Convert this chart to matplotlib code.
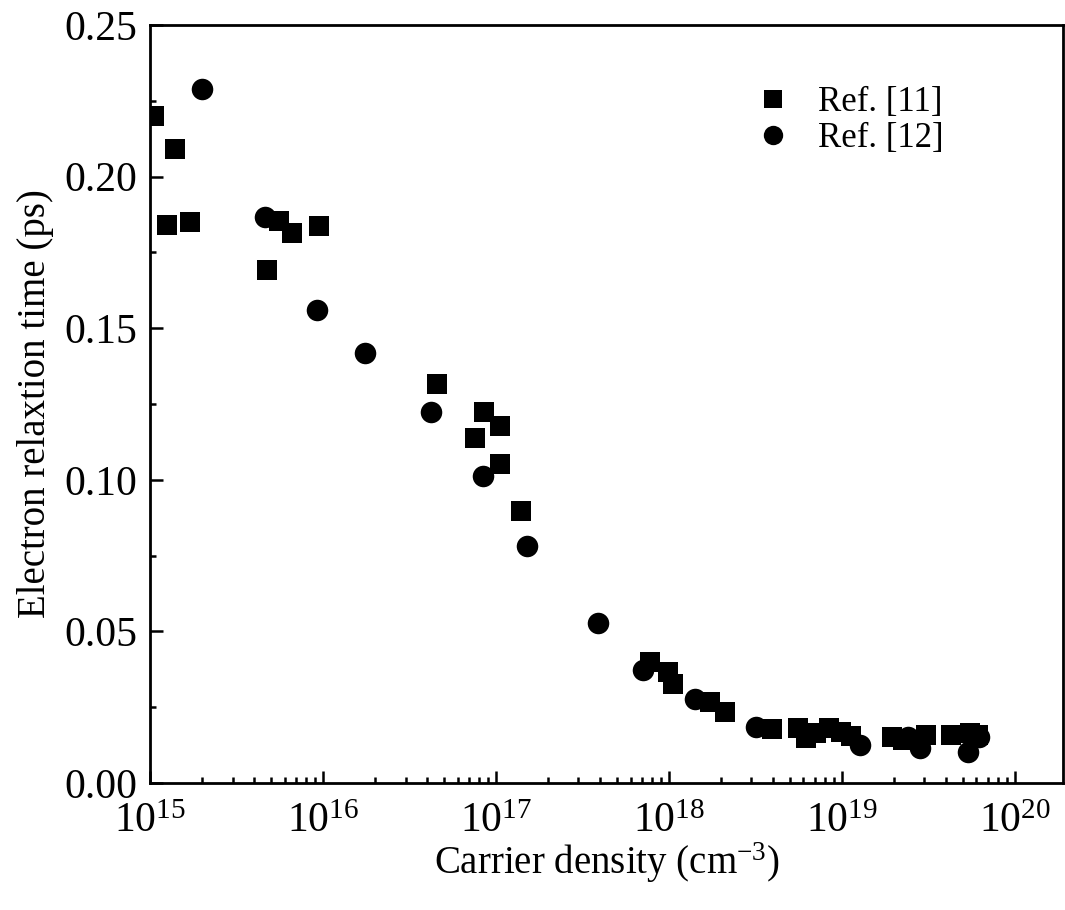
import matplotlib
matplotlib.use('Agg')
import matplotlib.pyplot as plt
from matplotlib.ticker import LogLocator, MultipleLocator, NullFormatter

plt.rcParams['font.family'] = ['Liberation Serif', 'DejaVu Serif']
plt.rcParams['mathtext.fontset'] = 'custom'
plt.rcParams['mathtext.rm'] = 'Liberation Serif'
plt.rcParams['mathtext.it'] = 'Liberation Serif:italic'

# Ref. [11] (squares)
n_ref11 = [1.05e15, 1.39e15, 1.25e15, 1.70e15, 5.58e15, 6.65e15, 9.53e15, 4.76e15,
           4.58e16, 8.53e16, 1.05e17, 7.57e16, 1.05e17, 1.39e17,
           7.76e17, 9.91e17, 1.06e18, 1.73e18, 2.11e18,
           3.94e18, 5.57e18, 6.2e18, 7.08e18, 8.42e18, 9.87e18, 1.13e19,
           1.94e19, 2.26e19, 3.09e19, 4.31e19, 5.50e19, 6.14e19]
tau_ref11 = [0.220, 0.209, 0.184, 0.185, 0.1855, 0.1813, 0.1836, 0.1691,
             0.1316, 0.1222, 0.1178, 0.1139, 0.1052, 0.0898,
             0.0398, 0.0366, 0.0328, 0.0267, 0.0234,
             0.0177, 0.0181, 0.0148, 0.0164, 0.0181, 0.0168, 0.0154,
             0.0152, 0.0141, 0.0158, 0.0158, 0.0164, 0.0158]

# Ref. [12] (circles)
n_ref12 = [1.99e15, 4.62e15, 9.18e15, 1.74e16, 4.21e16, 8.36e16, 1.52e17, 3.89e17,
           7.10e17, 1.41e18, 3.21e18, 1.27e19, 2.4e19, 2.83e19, 5.37e19, 6.2e19]
tau_ref12 = [0.229, 0.1868, 0.1559, 0.1417, 0.1225, 0.1012, 0.0783, 0.0526,
             0.0371, 0.0278, 0.0185, 0.0125, 0.0152, 0.0114, 0.0103, 0.0150]

fig = plt.figure(figsize=(10.65, 9.10), dpi=100)
ax = fig.add_axes([0.141, 0.1396, 0.857, 0.833])

ax.plot(n_ref11, tau_ref11, 's', color='black', ms=14, mew=0, label='Ref. [11]')
ax.plot(n_ref12, tau_ref12, 'o', color='black', ms=15.5, mew=0, label='Ref. [12]')

ax.set_xscale('log')
ax.set_xlim(1e15, 1.9e20)
ax.set_ylim(0, 0.25)

ax.yaxis.set_major_locator(MultipleLocator(0.05))
ax.yaxis.set_minor_locator(MultipleLocator(0.025))
ax.yaxis.set_major_formatter(matplotlib.ticker.FormatStrFormatter('%.2f'))
ax.xaxis.set_major_locator(LogLocator(base=10, numticks=10))
ax.xaxis.set_minor_locator(LogLocator(base=10, subs=range(2, 10), numticks=20))
ax.xaxis.set_minor_formatter(NullFormatter())

ax.tick_params(which='both', direction='in', width=1.8, labelsize=30)
ax.tick_params(which='major', length=9)
ax.tick_params(which='minor', length=4.5)
ax.tick_params(axis='y', pad=9)
ax.tick_params(axis='x', pad=14)
for s in ax.spines.values():
    s.set_linewidth(2.0)

ax.set_xlabel('Carrier density (cm$^{-3}$)', fontsize=28, labelpad=0)
ax.set_ylabel('Electron relaxtion time (ps)', fontsize=28, labelpad=8)

ax.legend(loc='upper left', bbox_to_anchor=(0.610, 0.961), frameon=False,
          fontsize=25, handlelength=2.0, handletextpad=0.3,
          labelspacing=0.1, markerscale=0.9)

fig.savefig('out.png', dpi=100)
